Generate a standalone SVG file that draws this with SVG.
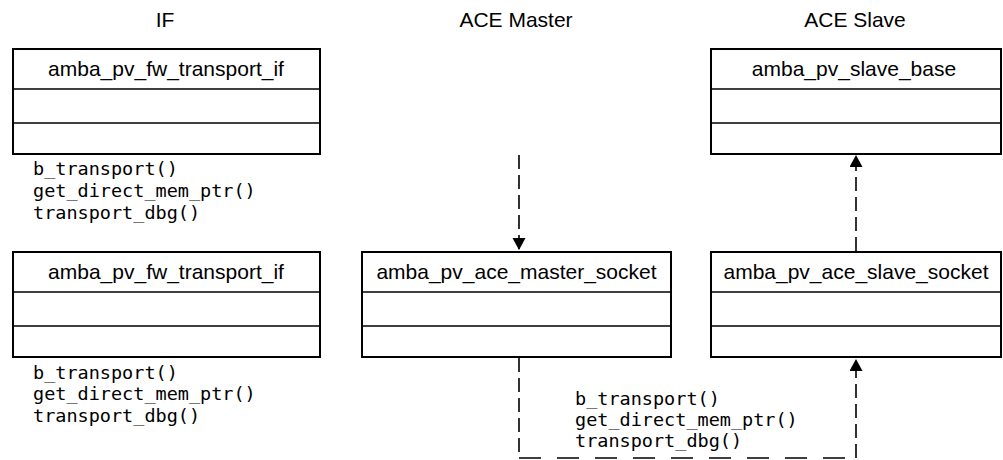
<svg xmlns="http://www.w3.org/2000/svg" width="1003" height="460" viewBox="0 0 1003 460">
<style>
.box{fill:#fff;stroke:#000;stroke-width:2}
.div{stroke:#000;stroke-width:1.6}
.title{font-family:"Liberation Sans",Arial,sans-serif;font-size:21px;fill:#000;text-anchor:middle}
.mono{font-family:"DejaVu Sans Mono","Liberation Mono",monospace;font-size:18.5px;fill:#000}
.dv{fill:none;stroke:#000;stroke-width:1.6;stroke-dasharray:14 6}
.dh{fill:none;stroke:#000;stroke-width:1.6;stroke-dasharray:22 16}
</style>
<defs>
<marker id="arr" markerUnits="userSpaceOnUse" markerWidth="14" markerHeight="14" refX="12" refY="6.5" orient="auto">
<path d="M0,0 L12,6.5 L0,13 z" fill="#000"/>
</marker>
</defs>
<rect width="1003" height="460" fill="#fff"/>
<g id="headers">
<text class="title" x="165" y="27">IF</text>
<text class="title" x="516" y="27">ACE Master</text>
<text class="title" x="855" y="27">ACE Slave</text>
</g>
<g id="if1">
<rect class="box" x="13" y="49" width="307" height="105"/>
<line class="div" x1="13" y1="89" x2="320" y2="89"/>
<line class="div" x1="13" y1="123" x2="320" y2="123"/>
<text class="title" x="166" y="76">amba_pv_fw_transport_if</text>
<text class="mono" x="33" y="175">b_transport()</text>
<text class="mono" x="33" y="197">get_direct_mem_ptr()</text>
<text class="mono" x="33" y="218.5">transport_dbg()</text>
</g>
<g id="if2">
<rect class="box" x="13" y="252" width="307" height="105"/>
<line class="div" x1="13" y1="292" x2="320" y2="292"/>
<line class="div" x1="13" y1="326" x2="320" y2="326"/>
<text class="title" x="166" y="279">amba_pv_fw_transport_if</text>
<text class="mono" x="33" y="378.5">b_transport()</text>
<text class="mono" x="33" y="400">get_direct_mem_ptr()</text>
<text class="mono" x="33" y="421.5">transport_dbg()</text>
</g>
<g id="master">
<rect class="box" x="362" y="252" width="309" height="105"/>
<line class="div" x1="362" y1="292" x2="671" y2="292"/>
<line class="div" x1="362" y1="326" x2="671" y2="326"/>
<text class="title" x="516.5" y="279">amba_pv_ace_master_socket</text>
</g>
<g id="slave_base">
<rect class="box" x="711" y="49" width="290" height="105"/>
<line class="div" x1="711" y1="89" x2="1001" y2="89"/>
<line class="div" x1="711" y1="123" x2="1001" y2="123"/>
<text class="title" x="854" y="76">amba_pv_slave_base</text>
</g>
<g id="slave_socket">
<rect class="box" x="711" y="252" width="290" height="105"/>
<line class="div" x1="711" y1="292" x2="1001" y2="292"/>
<line class="div" x1="711" y1="326" x2="1001" y2="326"/>
<text class="title" x="856" y="279">amba_pv_ace_slave_socket</text>
</g>
<g id="connectors">
<path class="dv" d="M519,155 L519,250" marker-end="url(#arr)"/>
<path class="dv" d="M519,358 L519,458"/>
<path class="dh" d="M519,458 L856,458"/>
<path class="dv" d="M856,458 L856,359" marker-end="url(#arr)"/>
<path class="dv" d="M856,251 L856,155" marker-end="url(#arr)"/>
<text class="mono" x="575" y="405">b_transport()</text>
<text class="mono" x="575" y="426">get_direct_mem_ptr()</text>
<text class="mono" x="575" y="447">transport_dbg()</text>
</g>
</svg>
